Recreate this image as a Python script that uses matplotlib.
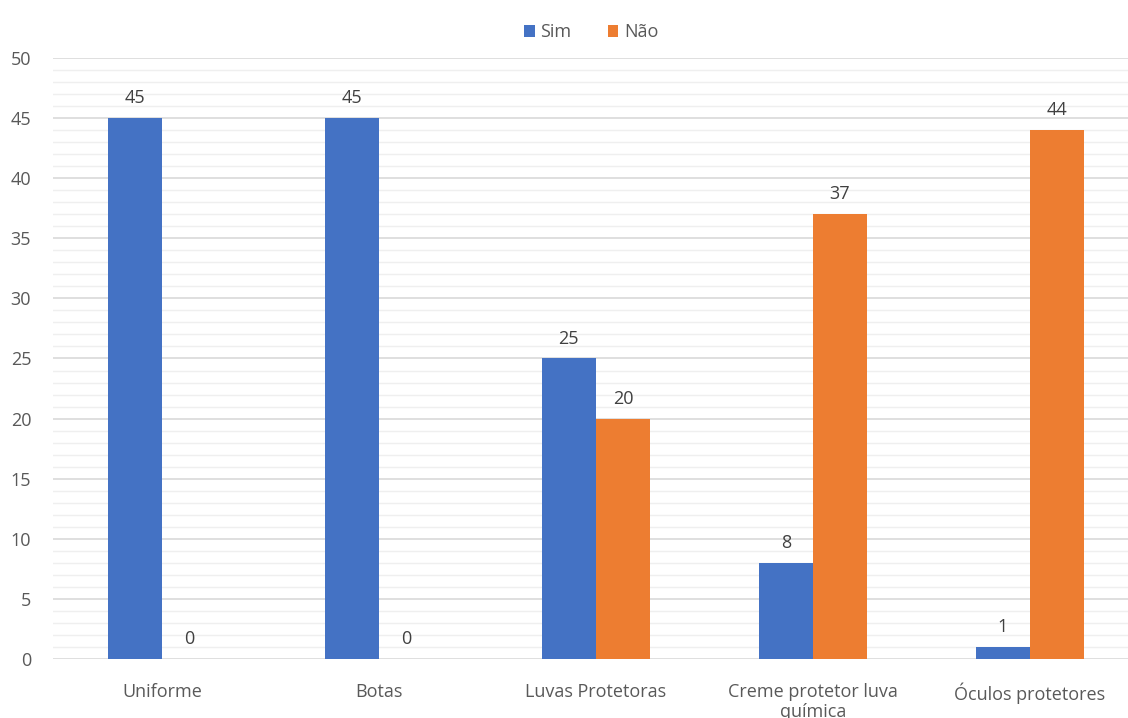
import matplotlib
matplotlib.use('agg')
import matplotlib.pyplot as plt
import numpy as np
from matplotlib.ticker import MultipleLocator

categories = ['Uniforme', 'Botas', 'Luvas Protetoras',
              'Creme protetor luva\nquímica', 'Óculos protetores']
sim = [45, 45, 25, 8, 1]
nao = [0, 0, 20, 37, 44]

plt.rcParams['font.family'] = ['Open Sans', 'DejaVu Sans']
text_color = '#595959'
fs = 13

fig = plt.figure(figsize=(11.28, 7.18), dpi=100)
ax = fig.add_axes([0.0474, 0.0822, 0.9526, 0.837])

x = np.arange(len(categories))
w = 0.25
b1 = ax.bar(x - w / 2, sim, w, color='#4472C4', label='Sim', zorder=3)
b2 = ax.bar(x + w / 2, nao, w, color='#ED7D31', label='Não', zorder=3)

# value labels above each bar
for bars, vals in ((b1, sim), (b2, nao)):
    for r, v in zip(bars, vals):
        ax.text(r.get_x() + r.get_width() / 2, v + 0.9, str(v),
                ha='center', va='bottom', fontsize=fs, color='#404040')

ax.set_ylim(0, 50)
ax.set_xlim(-0.5, 4.452)
ax.yaxis.set_major_locator(MultipleLocator(5))
ax.yaxis.set_minor_locator(MultipleLocator(1))
ax.grid(axis='y', which='major', color='#D9D9D9', linewidth=1.2, zorder=0)
ax.grid(axis='y', which='minor', color='#EFEFEF', linewidth=1.0, zorder=0)
for s in ax.spines.values():
    s.set_visible(False)
ax.tick_params(axis='both', which='both', length=0, colors=text_color,
               labelsize=fs)
ax.tick_params(axis='y', pad=16)
ax.tick_params(axis='x', pad=17)
ax.set_xticks(x)
ax.set_xticklabels(categories, va='top', linespacing=1.15)

fig.legend(loc='upper center', bbox_to_anchor=(0.524, 0.99), ncol=2,
           frameon=False, fontsize=fs, handlelength=0.6, handleheight=0.6,
           columnspacing=2.0, handletextpad=0.3, labelcolor=text_color)

fig.savefig('out.png', dpi=100)
